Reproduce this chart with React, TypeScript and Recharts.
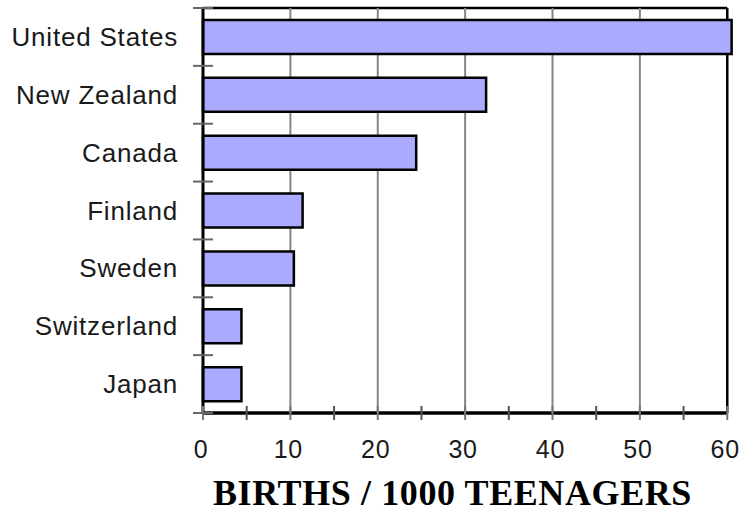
import React from 'react';
import { BarChart, Bar, XAxis, YAxis, CartesianGrid, Label } from 'recharts';

const countries = ['United States', 'New Zealand', 'Canada', 'Finland', 'Sweden', 'Switzerland', 'Japan'];
const births = [60.5, 32.4, 24.4, 11.4, 10.4, 4.4, 4.4];
const xTicks = [0, 5, 10, 15, 20, 25, 30, 35, 40, 45, 50, 55, 60];
const labelStep = 10;
const domainMax = 61;
const frameMax = 60;
const title = 'BIRTHS / 1000 TEENAGERS';

const data = countries.map((c, i) => ({ country: c, births: births[i] }));

const SANS = '"Liberation Sans", Arial, sans-serif';
const SERIF = '"Liberation Serif", "Times New Roman", serif';

function XTick(props: any) {
  const { x, y, payload } = props;
  const v = payload.value;
  const major = v % labelStep === 0;
  return (
    <g>
      <line x1={x} x2={x} y1={y - 7} y2={y + 7} stroke={major ? '#777' : '#555'} strokeWidth={2} />
      {major && (
        <text x={x - 2} y={y + 45} textAnchor="middle" fontSize={25} letterSpacing={0.8} fontFamily={SANS} fill="#1a1a1a">
          {v}
        </text>
      )}
    </g>
  );
}

function YTick(props: any) {
  const { x, y, payload, index, visibleTicksCount } = props;
  const off = payload && payload.offset != null ? payload.offset : 29;
  return (
    <g>
      <line x1={x - 10} x2={x + 10} y1={y - off} y2={y - off} stroke="#666" strokeWidth={2} />
      {index === visibleTicksCount - 1 && (
        <line x1={x - 10} x2={x + 10} y1={y + off} y2={y + off} stroke="#666" strokeWidth={2} />
      )}
      <text x={x - 25} y={y + 9} textAnchor="end" fontSize={26} letterSpacing={0.8} fontFamily={SANS} fill="#1a1a1a">
        {payload.value}
      </text>
    </g>
  );
}

function vLine(p: any) {
  const { index, x1, y1, x2, y2, key } = p;
  if (index % 2 !== 0 || index === 0) return <g key={key} />;
  const isFrame = index === xTicks.length - 1;
  return (
    <line
      key={key}
      x1={x1}
      x2={x2}
      y1={y1}
      y2={y2}
      stroke={isFrame ? '#000' : '#858585'}
      strokeWidth={isFrame ? 2.5 : 2}
    />
  );
}

function hLine(p: any) {
  const { index, x1, y1, x2, y2, key } = p;
  const end = x1 + ((x2 - x1) * frameMax) / domainMax;
  return (
    <line
      key={key}
      x1={x1}
      x2={end}
      y1={y1}
      y2={y2}
      stroke="#000"
      strokeWidth={index === 0 ? 2.5 : 3.5}
    />
  );
}

export default function App() {
  return (
    <div style={{ position: 'absolute', left: 0, top: 0, background: '#fff' }}>
      <BarChart
        width={741}
        height={513}
        data={data}
        layout="vertical"
        margin={{ top: 8, right: 5, bottom: 0, left: 0 }}
      >
        <CartesianGrid
          vertical={vLine}
          horizontal={hLine}
          horizontalCoordinatesGenerator={(a: any) => [a.offset.top, a.offset.top + a.offset.height]}
        />
        <XAxis
          type="number"
          dataKey="births"
          domain={[0, domainMax]}
          ticks={xTicks}
          interval={0}
          tick={<XTick />}
          tickLine={false}
          axisLine={false}
          tickSize={0}
          tickMargin={0}
          height={100}
        >
          <Label
            content={(p: any) => {
              const vb = p.viewBox;
              return (
                <text
                  x={vb.x + vb.width / 2 - 17}
                  y={vb.y + 92}
                  textAnchor="middle"
                  fontSize={36}
                  letterSpacing={0.6}
                  fontWeight="bold"
                  fontFamily={SERIF}
                  fill="#000"
                >
                  {title}
                </text>
              );
            }}
          />
        </XAxis>
        <YAxis
          type="category"
          dataKey="country"
          width={203}
          interval={0}
          tick={<YTick />}
          tickLine={false}
          axisLine={{ stroke: '#000', strokeWidth: 3 }}
          tickSize={0}
          tickMargin={0}
        />
        <Bar
          dataKey="births"
          fill="#AAAAFF"
          stroke="#000"
          strokeWidth={2.5}
          barSize={34}
          isAnimationActive={false}
        />
      </BarChart>
    </div>
  );
}
